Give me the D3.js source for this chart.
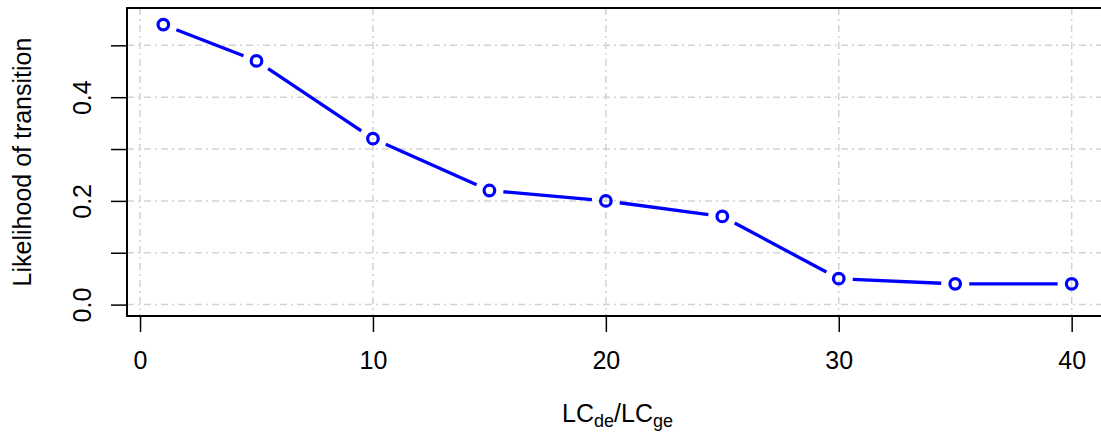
<!DOCTYPE html>
<html><head><meta charset="utf-8">
<script src="https://cdn.jsdelivr.net/npm/d3@7"></script>
<style>body{margin:0;background:#fff}svg{display:block}text{font-family:"Liberation Sans",Arial,sans-serif;fill:#000}</style>
</head><body><svg id="c" width="1101" height="436"></svg>
<script>
const xValues = [1, 5, 10, 15, 20, 25, 30, 35, 40];
const yValues = [0.54, 0.47, 0.32, 0.22, 0.20, 0.17, 0.05, 0.04, 0.04];
const xTicks = [0, 10, 20, 30, 40];
const yTicks = [0, 0.1, 0.2, 0.3, 0.4, 0.5];
const yTickLabels = ["0.0", "", "0.2", "", "0.4", ""];
const yTitle = "Likelihood of transition";

const svg = d3.select("#c");
const L = 127, R = 1108, T = 8, B = 316;
const FS = 25;
const x = d3.scaleLinear().domain([-0.56, 41.56]).range([L, R]);
const y = d3.scaleLinear().domain([-0.022, 0.572]).range([B, T]);

// grid
const grid = svg.append("g").attr("stroke", "#d3d3d3").attr("stroke-width", 1.5)
  .attr("stroke-dasharray", "7,4,2,4").attr("fill", "none");
grid.selectAll("line.v").data(xTicks).join("line").attr("class", "v")
  .attr("x1", d => x(d)).attr("x2", d => x(d)).attr("y1", T).attr("y2", B);
grid.selectAll("line.h").data(yTicks).join("line").attr("class", "h")
  .attr("y1", d => y(d)).attr("y2", d => y(d)).attr("x1", L).attr("x2", R);

// axes
const xAxis = d3.axisBottom(x).tickValues(xTicks).tickSize(16).tickPadding(19).tickFormat(d3.format("d"));
const gx = svg.append("g").attr("transform", `translate(0,${B})`).call(xAxis);
gx.select(".domain").remove();
gx.selectAll("line").attr("stroke", "#000").attr("stroke-width", 1.5);
gx.selectAll("text").attr("font-size", FS).attr("font-family", "Liberation Sans, Arial, sans-serif").attr("fill", "#000");

const yAxis = d3.axisLeft(y).tickValues(yTicks).tickSize(16).tickFormat((d, i) => yTickLabels[i]);
const gy = svg.append("g").attr("transform", `translate(${L},0)`).call(yAxis);
gy.select(".domain").remove();
gy.selectAll("line").attr("stroke", "#000").attr("stroke-width", 1.5);
gy.selectAll("text").attr("font-size", FS).attr("font-family", "Liberation Sans, Arial, sans-serif").attr("fill", "#000")
  .attr("text-anchor", "middle").attr("dy", null).attr("x", null)
  .attr("transform", "translate(-36,0) rotate(-90)");

// box
svg.append("rect").attr("x", L).attr("y", T).attr("width", R - L).attr("height", B - T)
  .attr("fill", "none").attr("stroke", "#000").attr("stroke-width", 2);

// lines with gaps (type = "b")
const pts = xValues.map((v, i) => [x(v), y(yValues[i])]);
const gap = 14;
const segs = [];
for (let i = 0; i < pts.length - 1; i++) {
  const [x1, y1] = pts[i], [x2, y2] = pts[i + 1];
  const dx = x2 - x1, dy = y2 - y1, len = Math.hypot(dx, dy);
  if (len > 2 * gap) segs.push([x1 + dx / len * gap, y1 + dy / len * gap, x2 - dx / len * gap, y2 - dy / len * gap]);
}
svg.append("g").selectAll("line").data(segs).join("line")
  .attr("x1", d => d[0]).attr("y1", d => d[1]).attr("x2", d => d[2]).attr("y2", d => d[3])
  .attr("stroke", "#0000ff").attr("stroke-width", 3.3);
svg.append("g").selectAll("circle").data(pts).join("circle")
  .attr("cx", d => d[0]).attr("cy", d => d[1]).attr("r", 5.3)
  .attr("fill", "none").attr("stroke", "#0000ff").attr("stroke-width", 3.2);

// titles
svg.append("text").attr("transform", `translate(31,${(T + B) / 2}) rotate(-90)`)
  .attr("text-anchor", "middle").attr("font-size", FS).text(yTitle);
const xt = svg.append("text").attr("x", (L + R) / 2).attr("y", 422).attr("text-anchor", "middle").attr("font-size", FS);
xt.append("tspan").text("LC");
xt.append("tspan").attr("font-size", 18).attr("dy", 5).text("de");
xt.append("tspan").attr("dy", -5).text("/LC");
xt.append("tspan").attr("font-size", 18).attr("dy", 5).text("ge");
</script></body></html>
